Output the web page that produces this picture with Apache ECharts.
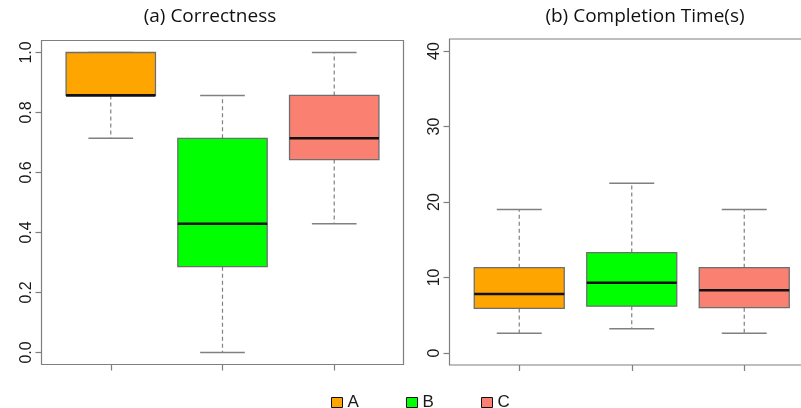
<!DOCTYPE html>
<html>
<head>
<meta charset="utf-8">
<script src="https://cdn.jsdelivr.net/npm/echarts@6/dist/echarts.min.js"></script>
<style>
  html, body { margin: 0; padding: 0; background: #fff; }
  #chart { width: 801px; height: 408px; }
</style>
</head>
<body>
<div id="chart"></div>
<script>
// Groups and their positions on the x scale
const groups = ['A', 'B', 'C'];
const groupPos = [1, 2, 3];
const groupColors = ['#FFA500', '#00FF00', '#FA8072'];

// Box statistics: [lower whisker, Q1, median, Q3, upper whisker]
const correctnessA = [0.714, 0.857, 0.857, 1.0, 1.0];
const correctnessB = [0.0, 0.286, 0.429, 0.714, 0.857];
const correctnessC = [0.429, 0.643, 0.714, 0.857, 1.0];

const timeA = [2.6, 5.9, 7.8, 11.3, 19.0];
const timeB = [3.2, 6.2, 9.3, 13.3, 22.5];
const timeC = [2.6, 6.0, 8.3, 11.3, 19.0];

// Axis ticks
const correctnessTicks = [0, 0.2, 0.4, 0.6, 0.8, 1.0];
const timeTicks = [0, 10, 20, 30, 40];

const panelTitles = ['(a) Correctness', '(b) Completion Time(s)'];

const correctness = [correctnessA, correctnessB, correctnessC];
const times = [timeA, timeB, timeC];

const frameColor = '#7f7f7f';
const whiskerColor = '#808080';

function renderBox(params, api) {
  const x = api.value(0);
  const lo = api.value(1), q1 = api.value(2), med = api.value(3), q3 = api.value(4), hi = api.value(5);
  const fill = api.visual('color');
  const half = 0.4, cap = 0.2;
  const pL = (v) => api.coord([x - half, v]);
  const pR = (v) => api.coord([x + half, v]);
  const pC = (v) => api.coord([x, v]);
  const top = pL(q3), bot = pR(q1);
  const children = [
    // whiskers
    { type: 'line', shape: { x1: pC(q3)[0], y1: pC(q3)[1], x2: pC(hi)[0], y2: pC(hi)[1] },
      style: { stroke: whiskerColor, lineWidth: 1.2, lineDash: [4, 3] } },
    { type: 'line', shape: { x1: pC(q1)[0], y1: pC(q1)[1], x2: pC(lo)[0], y2: pC(lo)[1] },
      style: { stroke: whiskerColor, lineWidth: 1.2, lineDash: [4, 3] } },
    // caps
    { type: 'line', shape: { x1: api.coord([x - cap, hi])[0], y1: pC(hi)[1], x2: api.coord([x + cap, hi])[0], y2: pC(hi)[1] },
      style: { stroke: whiskerColor, lineWidth: 1.5 } },
    { type: 'line', shape: { x1: api.coord([x - cap, lo])[0], y1: pC(lo)[1], x2: api.coord([x + cap, lo])[0], y2: pC(lo)[1] },
      style: { stroke: whiskerColor, lineWidth: 1.5 } },
    // box
    { type: 'rect', shape: { x: top[0], y: top[1], width: bot[0] - top[0], height: bot[1] - top[1] },
      style: { fill: fill, stroke: '#6e6e6e', lineWidth: 1.3 } },
    // median
    { type: 'line', shape: { x1: pL(med)[0], y1: pL(med)[1], x2: pR(med)[0], y2: pR(med)[1] },
      style: { stroke: '#111', lineWidth: 2.6 } }
  ];
  return { type: 'group', children: children };
}

function makeSeries(name, idx, stats, axisIndex) {
  return {
    type: 'custom',
    name: name,
    xAxisIndex: axisIndex,
    yAxisIndex: axisIndex,
    itemStyle: { color: groupColors[idx], borderColor: '#000', borderWidth: 1 },
    encode: { x: 0, y: [1, 2, 3, 4, 5] },
    renderItem: renderBox,
    data: [[groupPos[idx]].concat(stats)],
    silent: true,
    clip: false
  };
}

const series = [];
groups.forEach((g, i) => {
  series.push(makeSeries(g, i, correctness[i], 0));
  series.push(makeSeries(g, i, times[i], 1));
});

function xAxisFor(gridIndex) {
  return {
    type: 'value', gridIndex: gridIndex, min: 0.38, max: 3.62, position: 'bottom',
    axisLine: { show: false, onZero: false },
    axisTick: { show: true, customValues: groupPos, length: 6, lineStyle: { color: frameColor, width: 1.2 } },
    axisLabel: { show: false },
    splitLine: { show: false }
  };
}

function yAxisFor(gridIndex, min, max, ticks, fmt) {
  return {
    type: 'value', gridIndex: gridIndex, min: min, max: max, position: 'left',
    axisLine: { show: false, onZero: false },
    axisTick: { show: true, customValues: ticks, length: 6, lineStyle: { color: frameColor, width: 1.2 } },
    axisLabel: {
      customValues: ticks, rotate: 90, margin: 7, formatter: fmt,
      fontFamily: 'Liberation Sans', fontSize: 16, color: '#1a1a1a'
    },
    splitLine: { show: false }
  };
}

const legendBase = {
  top: 389, icon: 'rect', itemWidth: 11, itemHeight: 10, itemGap: 10,
  itemStyle: { borderColor: '#111', borderWidth: 1 },
  textStyle: { fontFamily: 'Liberation Sans', fontSize: 17, color: '#1a1a1a', padding: [0, 0, 0, 0] },
  selectedMode: false
};

const titleStyle = { fontFamily: 'Open Sans', fontSize: 19, fontWeight: 'normal', color: '#111' };

const chart = echarts.init(document.getElementById('chart'), null, { renderer: 'canvas' });
chart.setOption({
  animation: false,
  backgroundColor: '#ffffff',
  title: [
    { text: panelTitles[0], left: 205, top: 2, textAlign: 'center', textStyle: titleStyle },
    { text: panelTitles[1], left: 640, top: 2, textAlign: 'center', textStyle: titleStyle }
  ],
  legend: [
    Object.assign({}, legendBase, { left: 326, data: [groups[0]] }),
    Object.assign({}, legendBase, { left: 401, data: [groups[1]] }),
    Object.assign({}, legendBase, { left: 476, data: [groups[2]] })
  ],
  grid: [
    { left: 41.5, top: 40.5, width: 362, height: 324, show: true, borderColor: frameColor, borderWidth: 1.2,
      outerBoundsMode: 'none', containLabel: false },
    { left: 449.5, top: 39, width: 364.5, height: 326, show: true, borderColor: frameColor, borderWidth: 1.2,
      outerBoundsMode: 'none', containLabel: false }
  ],
  xAxis: [xAxisFor(0), xAxisFor(1)],
  yAxis: [
    yAxisFor(0, -0.04, 1.04, correctnessTicks, (v) => v.toFixed(1)),
    yAxisFor(1, -1.6, 41.6, timeTicks, (v) => String(v))
  ],
  series: series
});
</script>
</body>
</html>
